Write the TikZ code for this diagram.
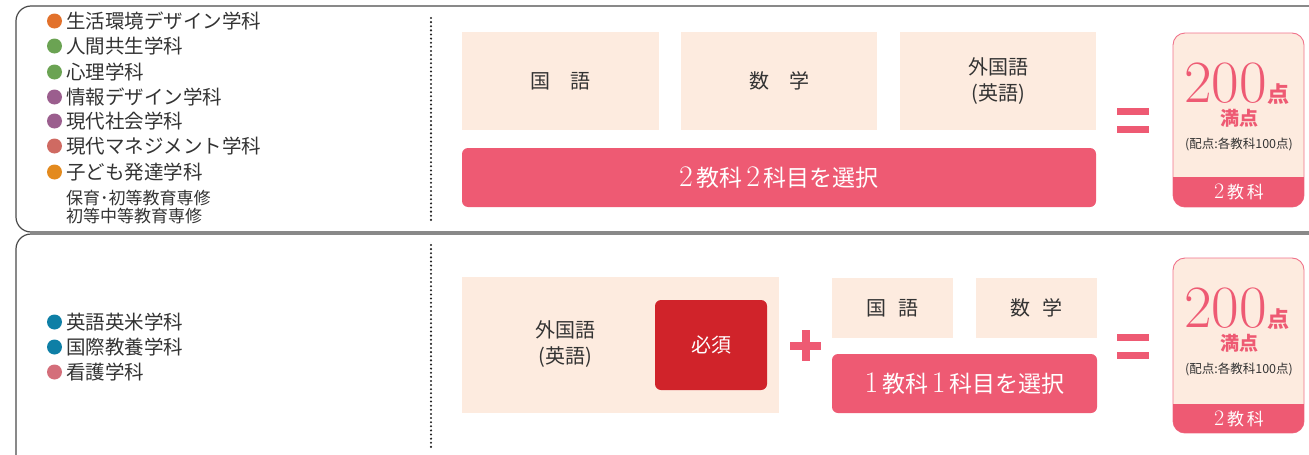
\documentclass[tikz,border=0pt]{standalone}
\usepackage{fontspec}
\newfontfamily\jp{Noto Sans CJK JP}
\definecolor{peach}{HTML}{FDEBDF}
\definecolor{pinkbar}{HTML}{EE5A73}
\definecolor{pinkline}{HTML}{F0728A}
\definecolor{darkred}{HTML}{D0232A}
\definecolor{darktext}{HTML}{333333}
\definecolor{frameg}{HTML}{4A4A4A}
\definecolor{cOrange}{HTML}{E2712B}
\definecolor{cGreen}{HTML}{6BA353}
\definecolor{cPurple}{HTML}{9B5E8E}
\definecolor{cSalmon}{HTML}{CF6A62}
\definecolor{cAmber}{HTML}{E38A1E}
\definecolor{cBlue}{HTML}{0E7FA6}
\definecolor{cRose}{HTML}{D46E7A}
\newcommand\dg[1]{{\rmfamily\scalebox{1.3}{#1}}}
\tikzset{
  frame/.style={draw=frameg, line width=1.2pt, rounded corners=15pt},
  dotmark/.style={fill=black!85},
  subj/.style={fill=peach, inner sep=0pt, text=darktext, align=center,
    font=\jp\fontsize{20}{26}\selectfont},
  selbar/.style={fill=pinkbar, rounded corners=6pt, inner sep=0pt, text=white,
    font=\jp\fontsize{23}{26}\selectfont},
  must/.style={fill=darkred, rounded corners=6pt, inner sep=0pt, text=white,
    font=\jp\fontsize{20}{24}\selectfont},
  scorebox/.style={draw=pinkline, line width=0.9pt, fill=peach, rounded corners=12pt},
  band/.style={fill=pinkbar},
  eqbar/.style={fill=pinkbar},
  bul/.style={circle, inner sep=0pt, minimum size=15pt},
  item/.style={anchor=west, inner sep=0pt, text=darktext, font=\jp\fontsize{19.5}{22}\selectfont},
  subitem/.style={anchor=west, inner sep=0pt, text=darktext, font=\jp\fontsize{17}{20}\selectfont},
  bignum/.style={anchor=base west, inner sep=0pt, text=pinkbar, text depth=0pt, font=\fontsize{60}{60}\selectfont},
  tenmark/.style={anchor=base west, inner sep=0pt, text=pinkbar, text depth=0pt, font=\jp\bfseries\fontsize{22}{24}\selectfont},
  manten/.style={anchor=base, inner sep=0pt, text=pinkbar, text height=15pt, text depth=1pt, font=\jp\bfseries\fontsize{19}{20}\selectfont},
  haiten/.style={inner sep=0pt, text=darktext, font=\jp\fontsize{12.5}{14}\selectfont},
  bandtext/.style={inner sep=0pt, text=white, font=\jp\fontsize{17}{18}\selectfont},
}
\begin{document}
\begin{tikzpicture}[x=1pt,y=-1pt]
\useasboundingbox (0,0) rectangle (1309,455);
% outer frames
\draw[frame] (16,6) rectangle (1345,232);
\draw[frame] (16,234) rectangle (1345,480);
% dotted separators
\foreach \k in {0,...,49}{
  \fill[dotmark] (431,18+\k*4.12) circle (1.15pt);
  \fill[dotmark] (431,245+\k*4.12) circle (1.15pt);
}

% ---- top list ----
\foreach \y/\c/\t [count=\i] in {
  21/cOrange/生活環境デザイン学科,
  46/cGreen/人間共生学科,
  72/cGreen/心理学科,
  97/cPurple/情報デザイン学科,
  121/cPurple/現代社会学科,
  146/cSalmon/現代マネジメント学科,
  172/cAmber/子ども発達学科}{
  \node[bul, fill=\c] (tb\i) at (54.5,\y) {};
  \node[item] (tl\i) at (66,\y) {\t};
}
\node[subitem] (ts1) at (66,198) {保育･初等教育専修};
\node[subitem] (ts2) at (66,216) {初等中等教育専修};

% ---- bottom list ----
\foreach \y/\c/\t [count=\i] in {
  322/cBlue/英語英米学科,
  347/cBlue/国際教養学科,
  372/cRose/看護学科}{
  \node[bul, fill=\c] (bb\i) at (54.5,\y) {};
  \node[item] (bl\i) at (66,\y) {\t};
}

% ---- top subjects ----
\node[subj, minimum width=197pt, minimum height=98pt] (tk) at (560.5,81) {国\hspace{20pt}語};
\node[subj, minimum width=196pt, minimum height=98pt] (ts) at (779,81) {数\hspace{20pt}学};
\node[subj, minimum width=196pt, minimum height=98pt] (tg) at (998,81) {外国語\\(英語)};
\node[selbar, minimum width=634pt, minimum height=59pt] (tsel) at (779,177.5)
  {\dg{2}\,教科\,\dg{2}\,科目を選択};

% equals top
\node[eqbar, minimum width=32pt, minimum height=7pt, inner sep=0pt] (te1) at (1133,111.5) {};
\node[eqbar, minimum width=32pt, minimum height=7pt, inner sep=0pt] (te2) at (1133,129.5) {};

% score top
\draw[scorebox] (1173,33) rectangle (1304,207);
\begin{scope}
\clip[rounded corners=12pt] (1173,33) rectangle (1304,207);
\fill[band] (1173,177) rectangle (1304,207);
\end{scope}
\node[bignum] (t200) at (1184,102) {200};
\node[tenmark] (tten) at (t200.base east) {点};
\node[manten] (tman) at (1239,125) {満点};
\node[haiten] (thai) at (1239,144) {(配点:各教科100点)};
\node[bandtext] (tk2) at (1239,192) {\dg{2}\,教\,科};

% ---- bottom subjects ----
\node[subj, minimum width=317pt, minimum height=136pt] (bg) at (620.5,345) {};
\node[subj, fill=none] (bgt) at (565,344) {外国語\\(英語)};
\node[must, minimum width=112pt, minimum height=90pt] (bm) at (711,345) {必須};

% plus
\node[eqbar, minimum width=31pt, minimum height=8pt, inner sep=0pt] (pl1) at (805.5,345.5) {};
\node[eqbar, minimum width=8pt, minimum height=31pt, inner sep=0pt] (pl2) at (805.5,345.5) {};

\node[subj, minimum width=121pt, minimum height=60pt] (bk) at (892.5,308) {国\hspace{12pt}語};
\node[subj, minimum width=121pt, minimum height=60pt] (bs) at (1036.5,308) {数\hspace{12pt}学};
\node[selbar, minimum width=265pt, minimum height=59pt] (bsel) at (964.5,383.5)
  {\dg{1}\,教科\,\dg{1}\,科目を選択};

% equals bottom
\node[eqbar, minimum width=32pt, minimum height=7pt, inner sep=0pt] (be1) at (1133,337) {};
\node[eqbar, minimum width=32pt, minimum height=7pt, inner sep=0pt] (be2) at (1133,355) {};

% score bottom
\draw[scorebox] (1173,258) rectangle (1304,433);
\begin{scope}
\clip[rounded corners=12pt] (1173,258) rectangle (1304,433);
\fill[band] (1173,404) rectangle (1304,433);
\end{scope}
\node[bignum] (b200) at (1184,327) {200};
\node[tenmark] (bten) at (b200.base east) {点};
\node[manten] (bman) at (1239,350) {満点};
\node[haiten] (bhai) at (1239,369) {(配点:各教科100点)};
\node[bandtext] (bk2) at (1239,418.5) {\dg{2}\,教\,科};
\end{tikzpicture}
\end{document}
